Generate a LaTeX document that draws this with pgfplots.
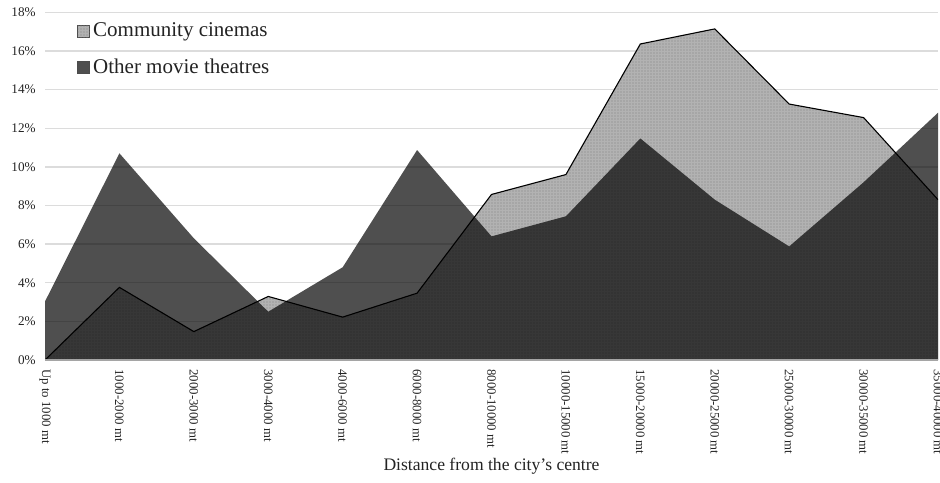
\documentclass[border=0pt]{standalone}
\usepackage{fontspec}
\setmainfont{Liberation Serif}
\usepackage{pgfplots}
\pgfplotsset{compat=1.18}
\usetikzlibrary{patterns.meta}
\definecolor{commfill}{RGB}{178,178,178}
\definecolor{commdots}{RGB}{128,128,128}
\definecolor{gridgray}{RGB}{220,220,220}
\definecolor{axisgray}{RGB}{165,165,165}
\definecolor{labelgray}{RGB}{35,35,35}

\begin{document}
\begin{tikzpicture}
\begin{axis}[
    scale only axis,
    width=446.5pt, height=173.85pt,
    xmin=0, xmax=12,
    ymin=0, ymax=18,
    axis line style={draw=none},
    major tick length=0pt,
    ymajorgrids=true,
    grid style={gridgray, line width=0.7pt},
    ytick={0,2,...,18},
    yticklabel={\pgfmathprintnumber[assume math mode=true]{\tick}\%},
    yticklabel style={font=\fontsize{6.6}{7.5}\selectfont, text=labelgray, inner sep=0pt, anchor=east},
    yticklabel shift=4.5pt,
    xtick={0,...,12},
    xticklabels={Up to 1000 mt, 1000-2000 mt, 2000-3000 mt, 3000-4000 mt, 4000-6000 mt,
        6000-8000 mt, 8000-10000 mt, 10000-15000 mt, 15000-20000 mt, 20000-25000 mt,
        25000-30000 mt, 30000-35000 mt, 35000-40000 mt},
    xticklabel style={font=\fontsize{6.4}{7.5}\selectfont, text=labelgray, rotate=-90, anchor=west, inner sep=0pt},
    xticklabel shift=4.5pt,
    xlabel={Distance from the city’s centre},
    xlabel style={at={(axis description cs:0.5,0)}, anchor=center, yshift=-53pt,
        font=\fontsize{8.8}{10}\selectfont, text=labelgray},
    legend style={at={(axis description cs:0,1)}, anchor=north west, xshift=16pt, yshift=-3.5pt,
        draw=none, fill=none, inner sep=0pt, row sep=6.5pt,
        font=\fontsize{10.5}{12}\selectfont, text=labelgray,
        nodes={inner sep=1.5pt}},
    legend cell align=left,
    legend image code/.code={\draw[#1, draw=black!70, line width=0.4pt] (0pt,-3pt) rectangle (6pt,3pt);},
]

% Community cinemas (light dotted area, behind)
\addplot[draw=none, fill=commfill, postaction={pattern={Dots[distance=1.5pt, radius=0.3pt]}, pattern color=commdots}]
coordinates {
    (0,0) (1,3.76) (2,1.47) (3,3.29) (4,2.22) (5,3.46) (6,8.57)
    (7,9.6) (8,16.36) (9,17.14) (10,13.25) (11,12.55) (12,8.3)
} \closedcycle;

% outline of the community series
\addplot[black, line width=0.55pt, forget plot]
coordinates {
    (0,0) (1,3.76) (2,1.47) (3,3.29) (4,2.22) (5,3.46) (6,8.57)
    (7,9.6) (8,16.36) (9,17.14) (10,13.25) (11,12.55) (12,8.3)
};

% Other movie theatres (dark, semi transparent, in front)
\addplot[draw=none, fill=black, fill opacity=0.69]
coordinates {
    (0,3.03) (1,10.7) (2,6.3) (3,2.5) (4,4.8) (5,10.87) (6,6.4)
    (7,7.44) (8,11.47) (9,8.3) (10,5.88) (11,9.2) (12,12.8)
} \closedcycle;

\draw[axisgray, line width=0.7pt] (axis description cs:0,0) -- (axis description cs:1,0);

\legend{Community cinemas, Other movie theatres}
\end{axis}
\pgfresetboundingbox
\useasboundingbox (-22.5pt,-61pt) rectangle (447.5pt,180pt);
\end{tikzpicture}
\end{document}
